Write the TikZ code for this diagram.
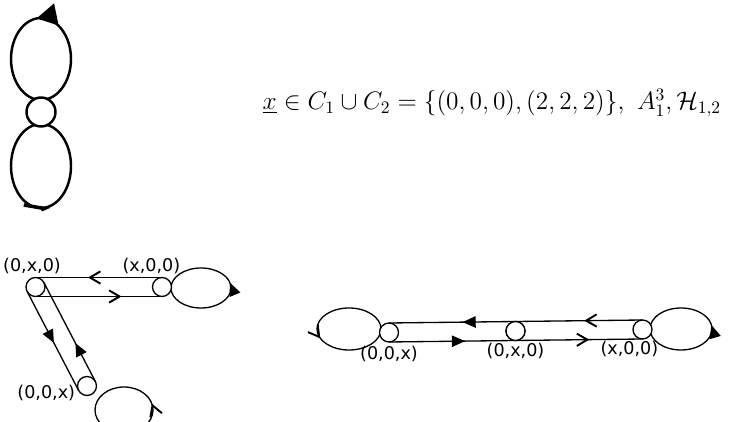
\documentclass[tikz,border=0pt]{standalone}
\usepackage{fontspec}
\newfontfamily\labelfont{DejaVu Sans}
\usetikzlibrary{arrows.meta,decorations.markings,positioning,calc}

\tikzset{
  fillhead/.tip={Triangle[length=7.5pt,width=6.5pt]},
  openhead/.tip={Straight Barb[length=6pt,width=7pt,line width=1.1pt]},
  bigfill/.tip={Triangle[length=11.5pt,width=12.5pt]},
  bigbarb/.tip={Straight Barb[harpoon,length=10pt,width=13pt,line width=2pt]},
  fillmark/.style={postaction={decorate},
    decoration={markings, mark=at position #1 with {\arrow{fillhead}}}},
  openmark/.style={postaction={decorate},
    decoration={markings, mark=at position #1 with {\arrow{openhead}}}},
  dot/.style={circle, draw, fill=white, minimum size=0.38cm, inner sep=0pt, outer sep=0pt},
  lbl/.style={font=\labelfont\fontsize{10}{12}\selectfont, inner sep=0pt}
}

\begin{document}
\begin{tikzpicture}[x=0.02cm, y=0.02cm, line width=0.75pt]
        \useasboundingbox (0,0) rectangle (733,422);

        % Coordinates
        \coordinate (hubpos) at (41, 310);
        \coordinate (yLpos) at (35.5, 135);
        \coordinate (xLpos) at (162, 135);
        \coordinate (zLpos) at (87, 36);
        \coordinate (zRpos) at (389, 89.5);
        \coordinate (yRpos) at (515.5, 91);
        \coordinate (xRpos) at (642.5, 92.5);

        % Top figure
        \draw[line width=1.4pt, postaction={decorate},
          decoration={markings, mark=at position 0.27 with {\arrow{bigfill}}}]
          (71, 363) arc[start angle=0, end angle=360, x radius=30, y radius=41];
        \draw[line width=1.4pt, postaction={decorate},
          decoration={markings, mark=at position 0.79 with {\arrow{bigbarb}}}]
          (71, 256) arc[start angle=0, end angle=360, x radius=30, y radius=42];
        \node[dot, minimum size=0.58cm, line width=1.4pt] (hub) at (hubpos) {};
        \node[anchor=base west, inner sep=0pt, font=\fontsize{14.8}{17}\selectfont] (formula) at (262, 312)
          {$\underline{x}\in C_1\cup C_2=\{(0,0,0),(2,2,2)\},\ A_1^3,\mathcal{H}_{1,2}$};

        % Bottom left
        \draw[fillmark=0.035] (231, 134) arc[start angle=0, end angle=360, x radius=30, y radius=20];
        \draw[openmark=0.04] (153, 12) arc[start angle=0, end angle=360, x radius=29, y radius=23];
        \node[dot] (yL) at (yLpos) {};
        \node[dot] (xL) at (xLpos) {};
        \node[dot] (zL) at (zLpos) {};
        \draw[openmark=0.585] (xL.north) -- (yL.north);
        \draw[openmark=0.68] (yL.south) -- (xL.south);
        \draw[fillmark=0.52] (yL.-152.5) -- (zL.-152.5);
        \draw[fillmark=0.39] (zL.27.5) -- (yL.27.5);
        \node[lbl, above=2pt of yL, xshift=-2pt] (yLlab) {(0,x,0)};
        \node[lbl, above=2pt of xL, xshift=-6pt] (xLlab) {(x,0,0)};
        \node[lbl, left=1pt of zL, yshift=-4pt] (zLlab) {(0,0,x)};

        % Bottom right
        \draw[openmark=0.56] (381, 93) arc[start angle=0, end angle=360, x radius=32, y radius=21];
        \draw[fillmark=0.025] (712, 93) arc[start angle=0, end angle=360, x radius=31, y radius=21];
        \node[dot] (zR) at (zRpos) {};
        \node[dot] (yR) at (yRpos) {};
        \node[dot] (xR) at (xRpos) {};
        \draw[postaction={decorate}, decoration={markings,
            mark=at position 0.23 with {\arrow{openhead}},
            mark=at position 0.71 with {\arrow{fillhead}}}] (xR.north) -- (zR.north);
        \draw[postaction={decorate}, decoration={markings,
            mark=at position 0.30 with {\arrow{fillhead}},
            mark=at position 0.79 with {\arrow{openhead}}}] (zR.south) -- (xR.south);
        \node[dot] at (yRpos) {};
        \node[lbl, below=2pt of zR] (zRlab) {(0,0,x)};
        \node[lbl, below=1pt of yR] (yRlab) {(0,x,0)};
        \node[lbl, below=1pt of xR, xshift=-7.5pt] (xRlab) {(x,0,0)};
    \end{tikzpicture}
\end{document}
